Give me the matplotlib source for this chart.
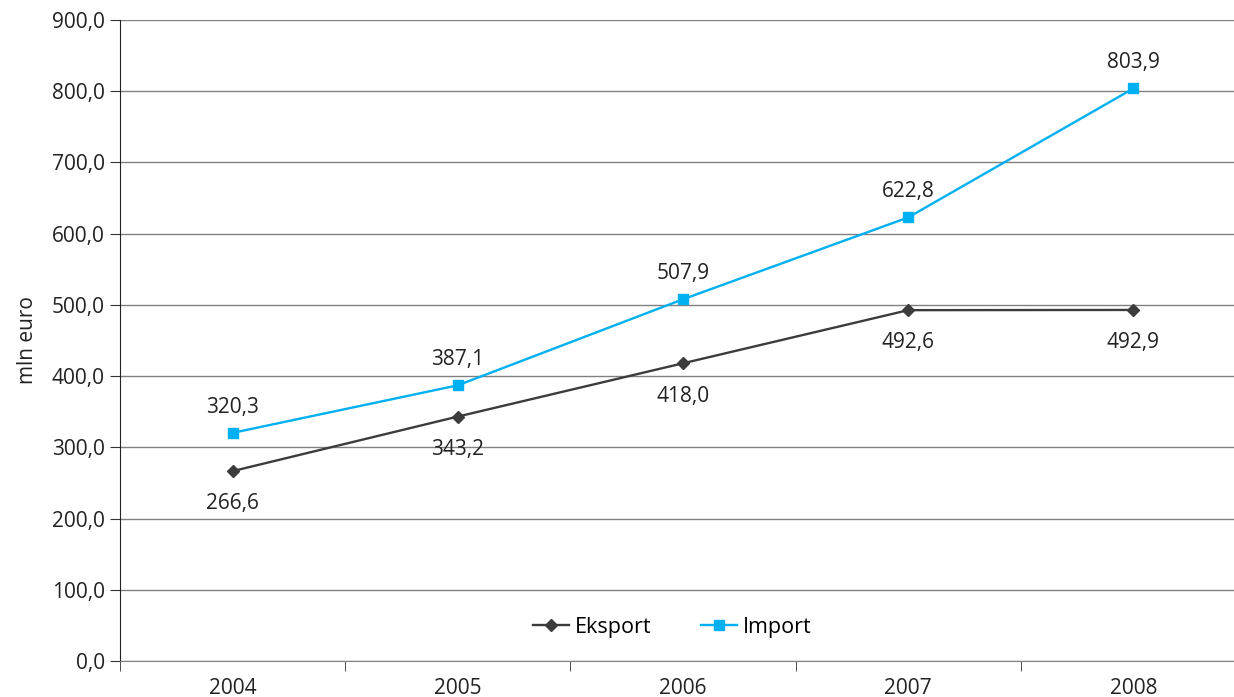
import matplotlib
matplotlib.use("Agg")
import matplotlib.pyplot as plt

years = ["2004", "2005", "2006", "2007", "2008"]
eksport = [266.6, 343.2, 418.0, 492.6, 492.9]
imprt = [320.3, 387.1, 507.9, 622.8, 803.9]
yticks = [0, 100, 200, 300, 400, 500, 600, 700, 800, 900]

plt.rcParams['font.family'] = ['Open Sans', 'DejaVu Sans']
fs = 15

fig = plt.figure(figsize=(12.34, 6.97), dpi=100)
ax = fig.add_axes([120/1234, 36/697, 1126/1234, 641/697])

x = list(range(len(years)))
ax.plot(x, eksport, color='#3c3c3c', lw=1.7, marker='D', ms=6, label='Eksport', zorder=3)
ax.plot(x, imprt, color='#00b0f0', lw=1.7, marker='s', ms=7, label='Import', zorder=3)

fmt = lambda v: f"{v:.1f}".replace('.', ',')
for xi, v in zip(x, eksport):
    ax.annotate(fmt(v), (xi, v), xytext=(0, -16), textcoords='offset points',
                ha='center', va='top', fontsize=fs, color='#222222')
for xi, v in zip(x, imprt):
    ax.annotate(fmt(v), (xi, v), xytext=(0, 11), textcoords='offset points',
                ha='center', va='bottom', fontsize=fs, color='#222222')

ax.set_xlim(-0.5, len(years) - 0.5)
ax.set_ylim(0, 900)
ax.set_yticks(yticks)
ax.set_yticklabels([fmt(v) for v in yticks], fontsize=fs, color='#222222')
ax.set_xticks(x)
ax.set_xticklabels(years, fontsize=fs, color='#222222')
ax.tick_params(axis='x', length=0, pad=12)
ax.set_xticks([i + 0.5 for i in range(-1, len(years))], minor=True)
ax.tick_params(axis='x', which='minor', length=7, color='#333333', direction='out')
ax.tick_params(axis='y', length=7, color='#333333', pad=4)

ax.grid(axis='y', color='#808080', lw=1.0)
ax.set_axisbelow(True)
for s in ['top', 'right']:
    ax.spines[s].set_visible(False)
ax.spines['left'].set_color('#222222')
ax.spines['bottom'].set_color('#808080')

ax.set_ylabel('mln euro', fontsize=fs, color='#222222', labelpad=10)

ax.legend(loc='center', bbox_to_anchor=(672/1234, (697-627)/697), bbox_transform=fig.transFigure,
          ncol=2, frameon=False, fontsize=fs+0.5, handlelength=1.7, columnspacing=2.3, handletextpad=0.25)

fig.savefig('out.png', dpi=100)
